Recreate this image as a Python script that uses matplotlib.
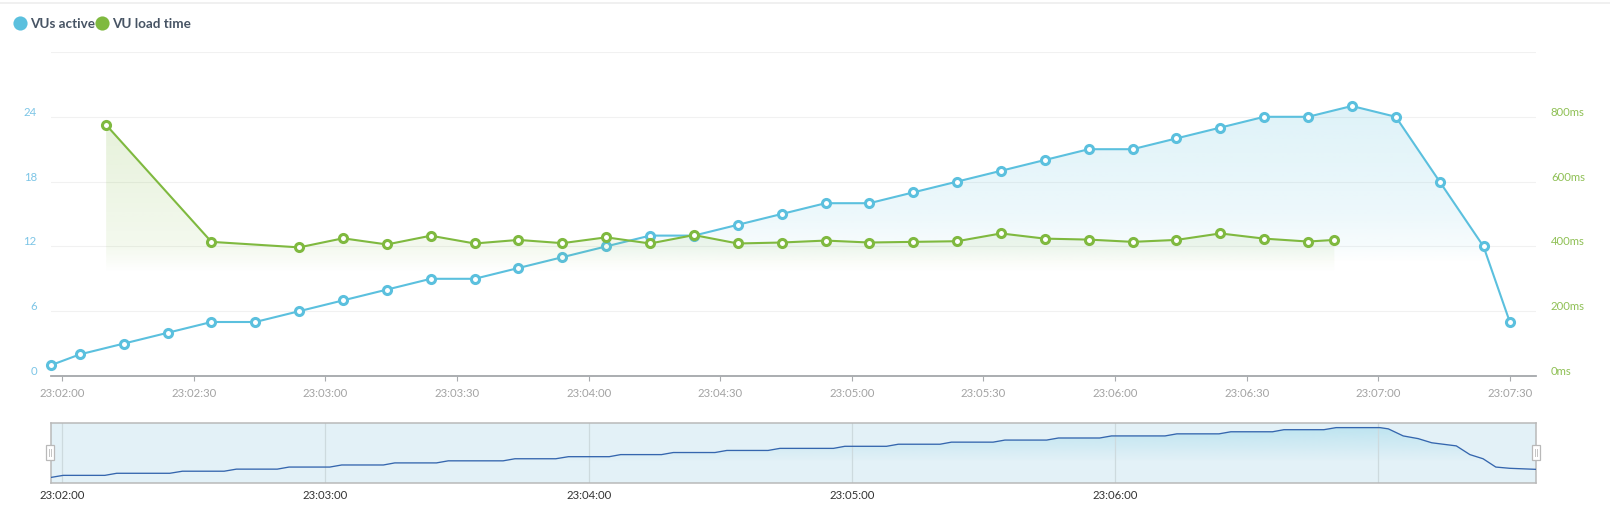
import numpy as np
import matplotlib
matplotlib.use('Agg')
import matplotlib.pyplot as plt
from matplotlib.lines import Line2D
from matplotlib.patches import Rectangle
from matplotlib.transforms import ScaledTranslation

plt.rcParams['font.family'] = ['Lato', 'DejaVu Sans']

# seconds after 23:02:00
vu_times = [-2.6, 4, 14, 24, 34, 44, 54, 64, 74, 84, 94, 104, 114, 124, 134, 144, 154, 164,
            174, 184, 194, 204, 214, 224, 234, 244, 254, 264, 274, 284, 294, 304, 314, 324, 330]
vu_active = [1, 2, 3, 4, 5, 5, 6, 7, 8, 9, 9, 10, 11, 12, 13, 13, 14, 15,
             16, 16, 17, 18, 19, 20, 21, 21, 22, 23, 24, 24, 25, 24, 18, 12, 5]

load_times = [10, 34, 54, 64, 74, 84, 94, 104, 114, 124, 134, 144, 154, 164,
              174, 184, 194, 204, 214, 224, 234, 244, 254, 264, 274, 284, 290]
load_ms = [775, 414, 397, 425, 406, 433, 409, 420, 410, 428, 409, 435, 409, 412,
           418, 412, 414, 416, 440, 424, 421, 414, 420, 440, 424, 415, 420]

# overview strip
nav_times = [-2.6, 0.2, 9.7, 12.4, 24.5, 27.4, 36.9, 39.7, 49, 51.7, 61, 63.7, 73.2, 75.8, 85.3,
             88, 100.5, 103.2, 112.5, 115.4, 124.7, 127.3, 136.6, 139.3, 148.8, 151.5, 160.9,
             163.6, 175.8, 178.4, 187.9, 190.6, 200.1, 202.7, 212.2, 214.9, 224.4, 227.1, 236.5,
             239.2, 251.4, 254.1, 263.7, 266.4, 275.9, 278.5, 287.6, 290.4, 300.4, 302.3, 305.7,
             309.1, 312.2, 314.8, 317.8, 320.9, 323.9, 326.8, 330, 335.9]
nav_values = [1, 2, 2, 3, 3, 4, 4, 5, 5, 6, 6, 7, 7, 8, 8,
              9, 9, 10, 10, 11, 11, 12, 12, 13, 13, 14, 14,
              15, 15, 16, 16, 17, 17, 18, 18, 19, 19, 20, 20,
              21, 21, 22, 22, 23, 23, 24, 24, 25, 25, 24.4, 21,
              19.7, 17.7, 17, 16.2, 12, 10, 6, 5.4, 4.9]

x_ticks = [0, 30, 60, 90, 120, 150, 180, 210, 240, 270, 300, 330]
x_labels = ['23:02:00', '23:02:30', '23:03:00', '23:03:30', '23:04:00', '23:04:30',
            '23:05:00', '23:05:30', '23:06:00', '23:06:30', '23:07:00', '23:07:30']
nav_ticks = [0, 60, 120, 180, 240]
nav_labels = ['23:02:00', '23:03:00', '23:04:00', '23:05:00', '23:06:00']
nav_grid = [0, 60, 120, 180, 240, 300]
vu_ticks = [0, 6, 12, 18, 24, 30]
vu_labels = ['0', '6', '12', '18', '24', '']
ms_ticks = [0, 200, 400, 600, 800, 1000]
ms_labels = ['0ms', '200ms', '400ms', '600ms', '800ms', '']

BLUE = '#5bc0de'
GREEN = '#7fb93f'
W, H = 1610, 513
XLIM = (-2.64, 335.9)


def px_axes(fig, left, top, right, bottom):
    return fig.add_axes([left / W, 1 - bottom / H, (right - left) / W, (bottom - top) / H])


def gradient_fill(ax, x, y, base, color, stops_y, stops_alpha, zorder=1):
    # fill under the line, coloured by a vertical alpha ramp
    poly = ax.fill_between(x, y, base, color='none', lw=0, zorder=zorder)
    ys = np.linspace(base, max(y), 300)
    img = np.zeros((300, 2, 4))
    img[:, :, :3] = matplotlib.colors.to_rgb(color)
    img[:, :, 3] = np.interp(ys, stops_y, stops_alpha)[:, None]
    im = ax.imshow(img, origin='lower', aspect='auto', zorder=zorder,
                   extent=(min(x), max(x), base, max(y)), interpolation='bilinear')
    im.set_clip_path(poly.get_paths()[0], transform=ax.transData)


def shift_up(labels, fig, px):
    offset = ScaledTranslation(0, px / fig.dpi, fig.dpi_scale_trans)
    for lab in labels:
        lab.set_transform(lab.get_transform() + offset)


fig = plt.figure(figsize=(W / 100, H / 100), dpi=100, facecolor='white')
fig.add_artist(Line2D([0, 1], [1 - 2.5 / H, 1 - 2.5 / H], color='#ececec', lw=1.1))

# main chart
ax = px_axes(fig, 50.7, 52, 1535.7, 376)
ax2 = ax.twinx()

gradient_fill(ax, vu_times, vu_active, 0, BLUE, [10.5, 12, 15, 25], [0, 0.05, 0.11, 0.2])
ax.plot(vu_times, vu_active, color=BLUE, lw=1.5, marker='o', ms=5.8, mfc='white', mew=2.2,
        mec=BLUE, zorder=3, clip_on=False)
gradient_fill(ax2, load_times, load_ms, 0, GREEN, [320, 400, 775], [0, 0.09, 0.19])
ax2.plot(load_times, load_ms, color=GREEN, lw=1.5, marker='o', ms=5.8, mfc='white', mew=2.2,
         mec=GREEN, zorder=3, clip_on=False)

ax.set_xlim(*XLIM)
ax.set_ylim(0, 30)
ax2.set_ylim(0, 1000)
ax.set_xticks(x_ticks)
ax.set_xticklabels(x_labels)
ax.set_yticks(vu_ticks)
ax.set_yticklabels(vu_labels)
ax2.set_yticks(ms_ticks)
ax2.set_yticklabels(ms_labels)
ax.grid(axis='y', color='#f1f1f1', lw=0.8)
ax.set_axisbelow(True)
ax.tick_params(axis='x', length=3.5, width=0.8, color='#a8abae', labelcolor='#a3a3a3',
               labelsize=8.2, pad=5)
ax.tick_params(axis='y', length=0, labelcolor='#7cc5e6', labelsize=8.2, pad=10)
ax2.tick_params(axis='y', length=0, labelcolor='#8fc055', labelsize=8.2, pad=11)
shift_up(ax.get_yticklabels(), fig, 5.5)
shift_up(ax2.get_yticklabels(), fig, 5.5)
for a in (ax, ax2):
    for name in ('top', 'left', 'right'):
        a.spines[name].set_visible(False)
    a.spines['bottom'].set_color('#a8abae')
    a.spines['bottom'].set_linewidth(1.1)

# overview strip
nav = px_axes(fig, 50.7, 423.3, 1535.7, 483)
nav.set_facecolor('#e3f1f7')
gradient_fill(nav, nav_times, nav_values, -1.68, '#a5dcec', [8.5, 25], [0, 0.6])
nav.plot(nav_times, nav_values, color='#3566ae', lw=0.95, zorder=3)
nav.set_xlim(*XLIM)
nav.set_ylim(-1.68, 27.08)
nav.set_yticks([])
nav.set_xticks(nav_ticks)
nav.set_xticklabels(nav_labels)
nav.tick_params(axis='x', length=0, labelcolor='#333333', labelsize=8.2, pad=5)
for g in nav_grid:
    nav.axvline(g, color='#cddade', lw=0.9, zorder=2)
for s in nav.spines.values():
    s.set_color('#b9b9b9')
    s.set_linewidth(1.1)

# overview drag handles
for hx in (46.3, 1531.7):
    fig.add_artist(Rectangle((hx / W, 1 - 460 / H), 8 / W, 14.7 / H, transform=fig.transFigure,
                             fc='white', ec='#b9b9b9', lw=0.9))
    for dx in (3, 5):
        fig.add_artist(Line2D([(hx + dx) / W] * 2, [1 - 456 / H, 1 - 449 / H], color='#c4c4c4', lw=0.7))

handles = [Line2D([], [], ls='none', marker='o', ms=10.2, color=BLUE, mew=0),
           Line2D([], [], ls='none', marker='o', ms=10.2, color=GREEN, mew=0)]
leg = fig.legend(handles, ['VUs active', 'VU load time'], ncol=2, frameon=False, loc='center left',
                 bbox_to_anchor=(13 / W, 1 - 23.5 / H), borderpad=0, borderaxespad=0,
                 handlelength=1.0, handletextpad=0.25, columnspacing=0.05,
                 prop={'weight': 'bold', 'size': 9.7})
for t in leg.get_texts():
    t.set_color('#475464')

fig.savefig('out.png', dpi=100)
